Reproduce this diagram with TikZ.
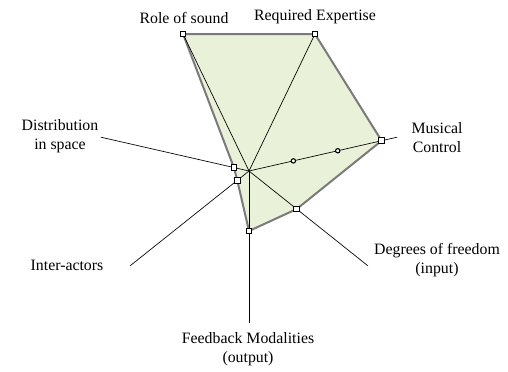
\documentclass[tikz,border=0pt]{standalone}
\usepackage{fontspec}
\setmainfont{Liberation Serif}
\usetikzlibrary{calc}
\usetikzlibrary{positioning}
\usetikzlibrary{backgrounds}
\definecolor{areagreen}{RGB}{233,241,216}
\definecolor{edgegray}{RGB}{122,122,122}
\tikzset{every picture/.style={line width=0.65pt},
  valbox/.style={draw, fill=white, inner sep=0pt, minimum size=3.4pt, line width=0.5pt},
  tickdot/.style={circle, draw, fill=white, inner sep=0pt, minimum size=2.6pt, line width=0.65pt},
  axislabel/.style={font=\fontsize{9.5}{11.4}\selectfont, align=center, inner sep=1pt}}

\begin{document}
\begin{tikzpicture}[x=0.6pt, y=0.6pt]
\useasboundingbox (0,0) rectangle (508,371);
\coordinate (o) at (249,200);
% ends of the seven axes
\coordinate (feed) at ($(o)+(-90:152)$);
\coordinate (dof) at ($(o)+(-38.57:152)$);
\coordinate (music) at ($(o)+(12.86:152)$);
\coordinate (expert) at ($(o)+(64.29:152)$);
\coordinate (role) at ($(o)+(115.71:152)$);
\coordinate (distr) at ($(o)+(167.14:152)$);
\coordinate (inter) at ($(o)+(218.57:152)$);
% values
\node (vfeed) at ($(o)+(-90:60)$) [valbox] {};
\node (vdof) at ($(o)+(-38.57:61)$) [valbox] {};
\node (vmusic) at ($(o)+(12.86:136)$) [valbox] {};
\node (vexpert) at (expert) [valbox] {};
\node (vrole) at (role) [valbox] {};
\node (vdistr) at ($(o)+(167.14:15.5)$) [valbox] {};
\node (vinter) at ($(o)+(218.57:15)$) [valbox] {};
\node (t1) at ($(o)+(12.86:45.5)$) [tickdot] {};
\node (t2) at ($(o)+(12.86:91)$) [tickdot] {};
% labels
\node (lrole) at (184,353) [axislabel] {Role of sound};
\node (lexpert) at (315,354) [axislabel] {Required Expertise};
\node (lmusic) at (437,233) [axislabel] {Musical\\Control};
\node (ldistr) at (60,235) [axislabel] {Distribution\\in space};
\node (linter) at (67,106) [axislabel] {Inter-actors};
\node (ldof) at (437,111) [axislabel] {Degrees of freedom\\(input)};
\node (lfeed) at (248,22) [axislabel] {Feedback Modalities\\(output)};
\begin{pgfonlayer}{background}
\fill[areagreen] (vrole.center) -- (vexpert.center) -- (vmusic.center) -- (vdof.center) -- (vfeed.center) -- (vinter.center) -- (vdistr.center) -- cycle;
\draw[edgegray, line width=1.2pt, line join=round] (vrole.center) -- (vexpert.center) -- (vmusic.center) -- (vdof.center) -- (vfeed.center) -- (vinter.center) -- (vdistr.center) -- cycle;
\draw (o) -- (feed);
\draw (o) -- (dof);
\draw (o) -- (music);
\draw (o) -- (expert);
\draw (o) -- (role);
\draw (o) -- (distr);
\draw (o) -- (inter);
\end{pgfonlayer}
\end{tikzpicture}
\end{document}
